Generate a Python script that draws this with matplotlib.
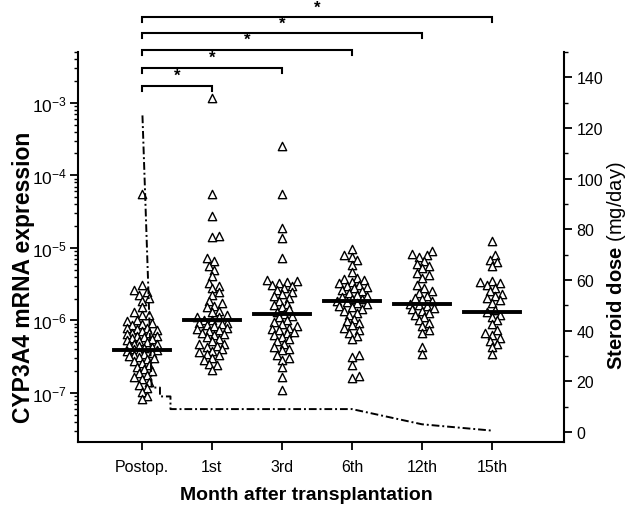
import numpy as np
import matplotlib
matplotlib.use("Agg")
from matplotlib import pyplot as plt
from matplotlib.ticker import LogLocator, MultipleLocator, LogFormatterSciNotation

plt.rcParams['font.family'] = ['Liberation Sans', 'DejaVu Sans']
plt.rcParams['mathtext.fontset'] = 'custom'
plt.rcParams['mathtext.rm'] = 'Liberation Sans'
plt.rcParams['mathtext.bf'] = 'Liberation Sans:bold'

# --- data (log10 of CYP3A4 mRNA expression) ---
groups = ["Postop.", "1st", "3rd", "6th", "12th", "15th"]

postop_log = [-4.26, -5.51, -5.58, -5.61, -5.65, -5.69, -5.73, -5.82, -5.89, -5.92,
              -5.93, -5.99, -6.01, -6.03, -6.05, -6.07, -6.10, -6.11, -6.12, -6.14,
              -6.15, -6.17, -6.18, -6.19, -6.21, -6.22, -6.23, -6.25, -6.26, -6.27,
              -6.29, -6.30, -6.32, -6.33, -6.34, -6.36, -6.37, -6.38, -6.40, -6.41,
              -6.42, -6.44, -6.45, -6.47, -6.48, -6.49, -6.51, -6.52, -6.53, -6.56,
              -6.59, -6.62, -6.64, -6.67, -6.70, -6.72, -6.75, -6.78, -6.81, -6.85,
              -6.89, -6.93, -6.99, -7.04, -7.09]
m1_log = [-2.93, -4.26, -4.56, -4.83, -4.85, -5.14, -5.18, -5.25, -5.31, -5.39,
          -5.48, -5.52, -5.56, -5.61, -5.65, -5.73, -5.76, -5.80, -5.82, -5.87,
          -5.89, -5.93, -5.95, -5.96, -5.99, -6.00, -6.03, -6.04, -6.05, -6.07,
          -6.08, -6.10, -6.12, -6.13, -6.15, -6.17, -6.19, -6.20, -6.23, -6.26,
          -6.29, -6.32, -6.33, -6.35, -6.37, -6.40, -6.42, -6.44, -6.47, -6.48,
          -6.52, -6.55, -6.60, -6.62, -6.68]
m3_log = [-3.60, -4.26, -4.73, -4.86, -5.14, -5.44, -5.46, -5.47, -5.49, -5.51,
          -5.52, -5.55, -5.58, -5.61, -5.64, -5.66, -5.69, -5.73, -5.77, -5.79,
          -5.82, -5.85, -5.88, -5.91, -5.94, -5.96, -5.99, -6.02, -6.05, -6.08,
          -6.10, -6.12, -6.14, -6.16, -6.18, -6.20, -6.23, -6.26, -6.29, -6.33,
          -6.37, -6.39, -6.41, -6.48, -6.52, -6.55, -6.64, -6.78, -6.96]
m6_log = [-5.01, -5.10, -5.12, -5.17, -5.24, -5.33, -5.41, -5.43, -5.45, -5.47,
          -5.49, -5.51, -5.52, -5.54, -5.56, -5.58, -5.60, -5.62, -5.65, -5.66,
          -5.68, -5.70, -5.71, -5.73, -5.75, -5.76, -5.78, -5.80, -5.82, -5.85,
          -5.87, -5.90, -5.92, -5.98, -6.01, -6.04, -6.07, -6.10, -6.13, -6.17,
          -6.21, -6.26, -6.48, -6.51, -6.62, -6.77, -6.79]
m12_log = [-5.05, -5.08, -5.10, -5.12, -5.18, -5.22, -5.25, -5.28, -5.35, -5.38,
           -5.41, -5.51, -5.55, -5.59, -5.62, -5.66, -5.69, -5.71, -5.74, -5.77,
           -5.79, -5.80, -5.83, -5.85, -5.87, -5.90, -5.93, -5.95, -6.00, -6.04,
           -6.08, -6.14, -6.17, -6.37, -6.47]
m15_log = [-4.91, -5.10, -5.17, -5.19, -5.25, -5.46, -5.47, -5.49, -5.51, -5.55,
           -5.60, -5.64, -5.66, -5.69, -5.72, -5.76, -5.86, -5.89, -5.92, -5.95,
           -6.00, -6.05, -6.14, -6.17, -6.20, -6.24, -6.28, -6.32, -6.37, -6.47]

median_log = [-6.41, -5.99, -5.91, -5.74, -5.78, -5.88]

# significance comparisons (Postop. vs each month)
sig_pairs = [(0, 1), (0, 2), (0, 3), (0, 4), (0, 5)]

# steroid dose (mg/day) on the same month axis
dose_x = [0.01, 0.14, 0.14, 0.26, 0.26, 0.41, 0.41, 3.0, 4.0, 5.0]
dose_y = [125, 19, 17.5, 17.5, 14, 14, 9, 9, 3, 0.5]

# --- layout helpers ---
PX_PER_X = 70.2
PX_PER_DEC = 73.3


def swarm_offsets(logvals, d=6.0, step=2.5, kmax=12):
    ys = np.asarray(logvals) * PX_PER_DEC
    offs = np.zeros(len(ys))
    placed = []
    for i in np.argsort(ys):
        best, best_d = 0.0, -1
        for k in range(kmax + 1):
            cand = ((k + 1) // 2) * step * (1 if k % 2 else -1)
            if placed:
                p = np.array(placed)
                md = np.min(np.hypot(p[:, 0] - cand, p[:, 1] - ys[i]))
            else:
                md = 1e9
            if md >= d:
                best = cand
                break
            if md > best_d:
                best, best_d = cand, md
        placed.append((best, ys[i]))
        offs[i] = best
    return offs / PX_PER_X


fig = plt.figure(figsize=(6.29, 5.06), dpi=100)
ax = fig.add_axes([0.124, 0.1245, 0.773, 0.7705])

all_groups = [postop_log, m1_log, m3_log, m6_log, m12_log, m15_log]
for i, vals in enumerate(all_groups):
    xs = i + swarm_offsets(vals)
    ax.scatter(xs, 10 ** np.asarray(vals), marker='^', s=36, facecolor='white',
               edgecolor='black', linewidth=1.0, zorder=3)
    ax.plot([i - 0.4, i + 0.4], [10 ** median_log[i]] * 2, color='black', lw=2.8, zorder=4)

ax.set_yscale('log')
ax.set_ylim(2.1e-8, 5e-3)
ax.set_xlim(-0.91, 6.03)
ax.yaxis.set_major_locator(LogLocator(base=10, numticks=20))
ax.yaxis.set_minor_locator(LogLocator(base=10, subs=np.arange(2, 10), numticks=20))
ax.yaxis.set_major_formatter(LogFormatterSciNotation())
ax.set_xticks(range(len(groups)))
ax.set_xticklabels(groups, fontsize=11.5)
ax.tick_params(axis='y', which='major', labelsize=12.5, length=6, width=1.3, pad=2)
ax.tick_params(axis='y', which='minor', length=3, width=1.0)
ax.tick_params(axis='x', length=6, width=1.3, pad=6)
for s in ['top', 'right']:
    ax.spines[s].set_visible(False)
for s in ['left', 'bottom']:
    ax.spines[s].set_linewidth(1.5)
ax.set_ylabel('CYP3A4 mRNA expression', fontsize=16.5, fontweight='bold')
ax.yaxis.set_label_coords(-0.088, 0.424)
ax.set_xlabel('Month after transplantation', fontsize=14, fontweight='bold')
ax.xaxis.set_label_coords(0.469, -0.112)

# significance brackets
trans = ax.get_xaxis_transform()
bracket_y = [0.9136, 0.959, 1.006, 1.048, 1.089]
drop = 0.013
for (a, b), yb in zip(sig_pairs, bracket_y):
    ax.plot([a, a, b, b], [yb - drop, yb, yb, yb - drop], color='black', lw=1.5,
            transform=trans, clip_on=False, solid_joinstyle='miter')
    ax.text((a + b) / 2, yb + 0.008, '*', transform=trans, ha='center', va='bottom',
            fontsize=12, fontweight='bold')

# steroid dose on right axis
ax2 = ax.twinx()
ax2.plot(dose_x, dose_y, color='black', lw=1.4, linestyle=(0, (4, 1.5, 1, 1.5)))
ax2.set_ylim(-4, 150)
ax2.yaxis.set_major_locator(MultipleLocator(20))
ax2.yaxis.set_minor_locator(MultipleLocator(10))
ax2.tick_params(axis='y', which='major', labelsize=11.5, length=6, width=1.3, pad=3)
ax2.tick_params(axis='y', which='minor', length=3, width=1.0)
for s in ['top', 'left', 'bottom']:
    ax2.spines[s].set_visible(False)
ax2.spines['right'].set_linewidth(1.5)
fig.text(617 / 629, 1 - 266 / 506, r'$\mathbf{Steroid\ dose}$ (mg/day)', rotation=90,
         ha='center', va='center', fontsize=14.5)

fig.savefig('out.png', dpi=100)
